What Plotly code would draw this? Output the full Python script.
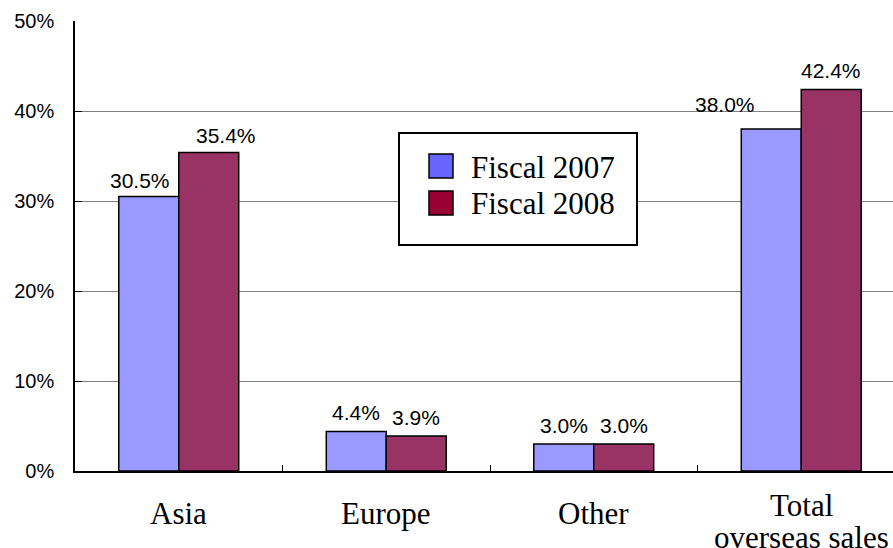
import plotly.graph_objects as go

# ---- data ----
categories = ["Asia", "Europe", "Other", "Total overseas sales"]
category_lines = [["Asia"], ["Europe"], ["Other"], ["Total", "overseas sales"]]
series_names = ["Fiscal 2007", "Fiscal 2008"]
fiscal_2007 = [30.5, 4.4, 3.0, 38.0]
fiscal_2008 = [35.4, 3.9, 3.0, 42.4]
y_ticks = [0, 10, 20, 30, 40, 50]

# ---- style ----
W, H = 893, 548
ML, MR, MT, MB = 75, 0, 21, 77
bar_colors = ["#9999FF", "#993366"]
legend_colors = ["#6666FF", "#990033"]
sans = "Liberation Sans Narrow, Arial Narrow, Liberation Sans, Arial, sans-serif"
serif = "Liberation Serif, Times New Roman, serif"
bargap = 0.422
label_dx = [[-9, 0, 0, -46], [17, 0, 0, 0]]
label_dy = [[-2, 0, 0, 6], [-2, 0, 0, 0]]

pw, ph = W - ML - MR, H - MT - MB


def px_x(p):
    return (p - ML) / pw


def px_y(p):
    return (H - MB - p) / ph


fig = go.Figure()
for name, vals, col in zip(series_names, [fiscal_2007, fiscal_2008], bar_colors):
    fig.add_trace(go.Bar(
        x=list(range(len(categories))), y=vals, name=name,
        marker=dict(color=col, line=dict(color="black", width=1.5)),
        showlegend=False, hoverinfo="skip",
    ))

annotations = []
half = (1 - bargap) / 4
for s, vals in enumerate([fiscal_2007, fiscal_2008]):
    off = -half if s == 0 else half
    for i, v in enumerate(vals):
        annotations.append(dict(
            x=i + off, y=v, xref="x", yref="y", text=f"{v:.1f}%",
            showarrow=False, yanchor="bottom", xanchor="center",
            xshift=label_dx[s][i], yshift=5 + label_dy[s][i],
            font=dict(family=sans, size=21, color="black"),
        ))

# category labels
for i, lines in enumerate(category_lines):
    n = len(lines)
    for k, line in enumerate(lines):
        base = 513 if n == 1 else 505
        annotations.append(dict(
            x=i, y=px_y(base + k * 32), xref="x", yref="paper", text=line,
            showarrow=False, yanchor="middle", xanchor="center",
            font=dict(family=serif, size=31, color="black"),
        ))

# legend (drawn box)
shapes = [dict(type="rect", xref="paper", yref="paper",
               x0=px_x(399), x1=px_x(637), y0=px_y(245), y1=px_y(133),
               fillcolor="white", line=dict(color="black", width=2), layer="above")]
rows = [166, 203]
for name, col, cy in zip(series_names, legend_colors, rows):
    shapes.append(dict(type="rect", xref="paper", yref="paper",
                       x0=px_x(429), x1=px_x(453), y0=px_y(cy + 12), y1=px_y(cy - 12),
                       fillcolor=col, line=dict(color="black", width=1.5), layer="above"))
    annotations.append(dict(x=px_x(469), y=px_y(cy + 1), xref="paper", yref="paper",
                            text=name, showarrow=False, xanchor="left", yanchor="middle",
                            font=dict(family=serif, size=31, color="black")))

fig.update_layout(
    width=W, height=H,
    margin=dict(l=ML, r=MR, t=MT, b=MB, pad=0),
    paper_bgcolor="white", plot_bgcolor="white",
    barmode="group", bargap=bargap, bargroupgap=0,
    showlegend=False,
    annotations=annotations, shapes=shapes,
    xaxis=dict(
        type="linear", range=[-0.5, -0.5 + pw / 207.5],
        tickvals=[i - 0.5 for i in range(len(categories) + 1)],
        showticklabels=False, ticks="inside", ticklen=6, tickcolor="black",
        showgrid=False, zeroline=False,
        showline=True, linecolor="black", linewidth=1.5,
    ),
    yaxis=dict(
        range=[0, 50], tickvals=y_ticks, ticktext=[f"{t}%" for t in y_ticks],
        ticks="inside", ticklen=7, tickcolor="black",
        showgrid=True, gridcolor="#808080", gridwidth=1,
        zeroline=False, showline=True, linecolor="black", linewidth=1.5,
        tickfont=dict(family=sans, size=20, color="black"),
        ticklabelstandoff=15,
    ),
)

fig.write_html(
    "out.html",
    config={"displayModeBar": False},
    post_script="document.body.style.margin='0';document.body.style.overflow='hidden';",
)
